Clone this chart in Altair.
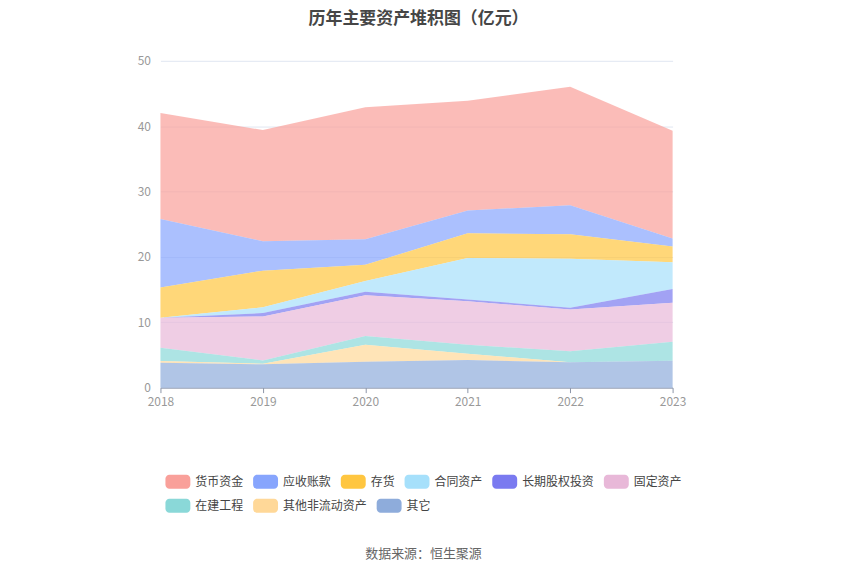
import altair as alt
import pandas as pd

years = ["2018", "2019", "2020", "2021", "2022", "2023"]
series_names = ["货币资金", "应收账款", "存货", "合同资产", "长期股权投资",
                "固定资产", "在建工程", "其他非流动资产", "其它"]

cash = [16.2, 17.0, 20.2, 16.8, 18.1, 16.5]
receivables = [10.5, 4.5, 3.9, 3.5, 4.45, 1.2]
inventory = [4.6, 5.6, 2.5, 3.76, 3.75, 2.42]
contract_assets = [0.0, 0.9, 1.65, 6.34, 7.5, 4.08]
lt_equity = [0.0, 0.5, 0.51, 0.3, 0.25, 2.13]
fixed_assets = [4.6, 6.73, 6.26, 6.64, 6.41, 5.95]
construction = [2.03, 0.51, 1.32, 1.37, 1.67, 2.9]
other_noncurrent = [0.27, 0.1, 2.59, 0.97, 0.02, 0.0]
others = [3.8, 3.56, 3.97, 4.22, 3.87, 4.12]

colors = ["#F9A09A", "#87A5FD", "#FFC640", "#A6E0FB", "#7A7AF0",
          "#E8B8D8", "#8AD8D8", "#FFD898", "#8EACDB"]

title_text = "历年主要资产堆积图（亿元）"
source_text = "数据来源：恒生聚源"

all_series = [cash, receivables, inventory, contract_assets, lt_equity,
              fixed_assets, construction, other_noncurrent, others]

rows = []
for i, (name, vals) in enumerate(zip(series_names, all_series)):
    for y, v in zip(years, vals):
        rows.append({"year": y, "series": name, "value": v,
                     "order": len(series_names) - i})
df = pd.DataFrame(rows)

FONT = "Noto Sans CJK SC"
color_scale = alt.Scale(domain=series_names, range=colors)

# ---- legend layout (echarts-like: 25x14 swatch, 5px label gap, 10px item gap)
SW, SH, LGAP, IGAP, CH = 25, 14, 5, 10, 12
legend_rows = [series_names[:6], series_names[6:]]
row_y = [422.5, 446.5]
leg = []
for r, names in enumerate(legend_rows):
    x = 5
    for n in names:
        leg.append({"series": n, "x0": x, "x1": x + SW,
                    "y0": row_y[r] - SH / 2, "y1": row_y[r] + SH / 2,
                    "tx": x + SW + LGAP, "ty": row_y[r]})
        x += SW + LGAP + CH * len(n) + IGAP
leg_df = pd.DataFrame(leg)

area = alt.Chart(df).mark_area(opacity=0.7).encode(
    x=alt.X("year:O", scale=alt.Scale(padding=0),
            axis=alt.Axis(title=None, labelAngle=0, labelColor="#999999",
                          labelFontSize=12, labelFont=FONT,
                          domainColor="#8C95A8", tickColor="#8C95A8",
                          tickSize=5, labelPadding=4, grid=False)),
    y=alt.Y("value:Q", stack="zero",
            scale=alt.Scale(domain=[0, 50], nice=False),
            axis=alt.Axis(title=None, values=[0, 10, 20, 30, 40, 50],
                          domain=False, ticks=False, labelColor="#999999",
                          labelFontSize=12, labelFont=FONT, labelPadding=10,
                          gridColor="#E0E6F1", gridWidth=1)),
    color=alt.Color("series:N", scale=color_scale, legend=None),
    order=alt.Order("order:Q", sort="ascending"),
)

swatches = alt.Chart(leg_df).mark_rect(cornerRadius=4).encode(
    x=alt.X("x0:Q", scale=None, axis=None),
    x2="x1:Q",
    y=alt.Y("y0:Q", scale=None, axis=None),
    y2="y1:Q",
    color=alt.Color("series:N", scale=color_scale, legend=None),
)

labels = alt.Chart(leg_df).mark_text(
    font=FONT, fontSize=12, color="#444444", align="left", baseline="middle"
).encode(
    x=alt.X("tx:Q", scale=None, axis=None),
    y=alt.Y("ty:Q", scale=None, axis=None),
    text="series:N",
)

title = alt.Chart(pd.DataFrame({"t": [title_text]})).mark_text(
    font=FONT, fontSize=17, fontWeight="bold", color="#464646",
    align="center", baseline="middle"
).encode(text="t:N", x=alt.value(259), y=alt.value(-42))

source = alt.Chart(pd.DataFrame({"t": [source_text]})).mark_text(
    font=FONT, fontSize=13, color="#666666",
    align="center", baseline="middle"
).encode(text="t:N", x=alt.value(264), y=alt.value(495))

chart = alt.layer(area, swatches, labels, title, source).resolve_scale(
    x="independent", y="independent"
).properties(
    width=514, height=328,
    autosize=alt.AutoSizeParams(type="none"),
    padding={"left": 153, "top": 52, "right": 170, "bottom": 175},
).configure_view(stroke=None)

chart.save("out.html", embed_options={"renderer": "svg", "actions": False})
